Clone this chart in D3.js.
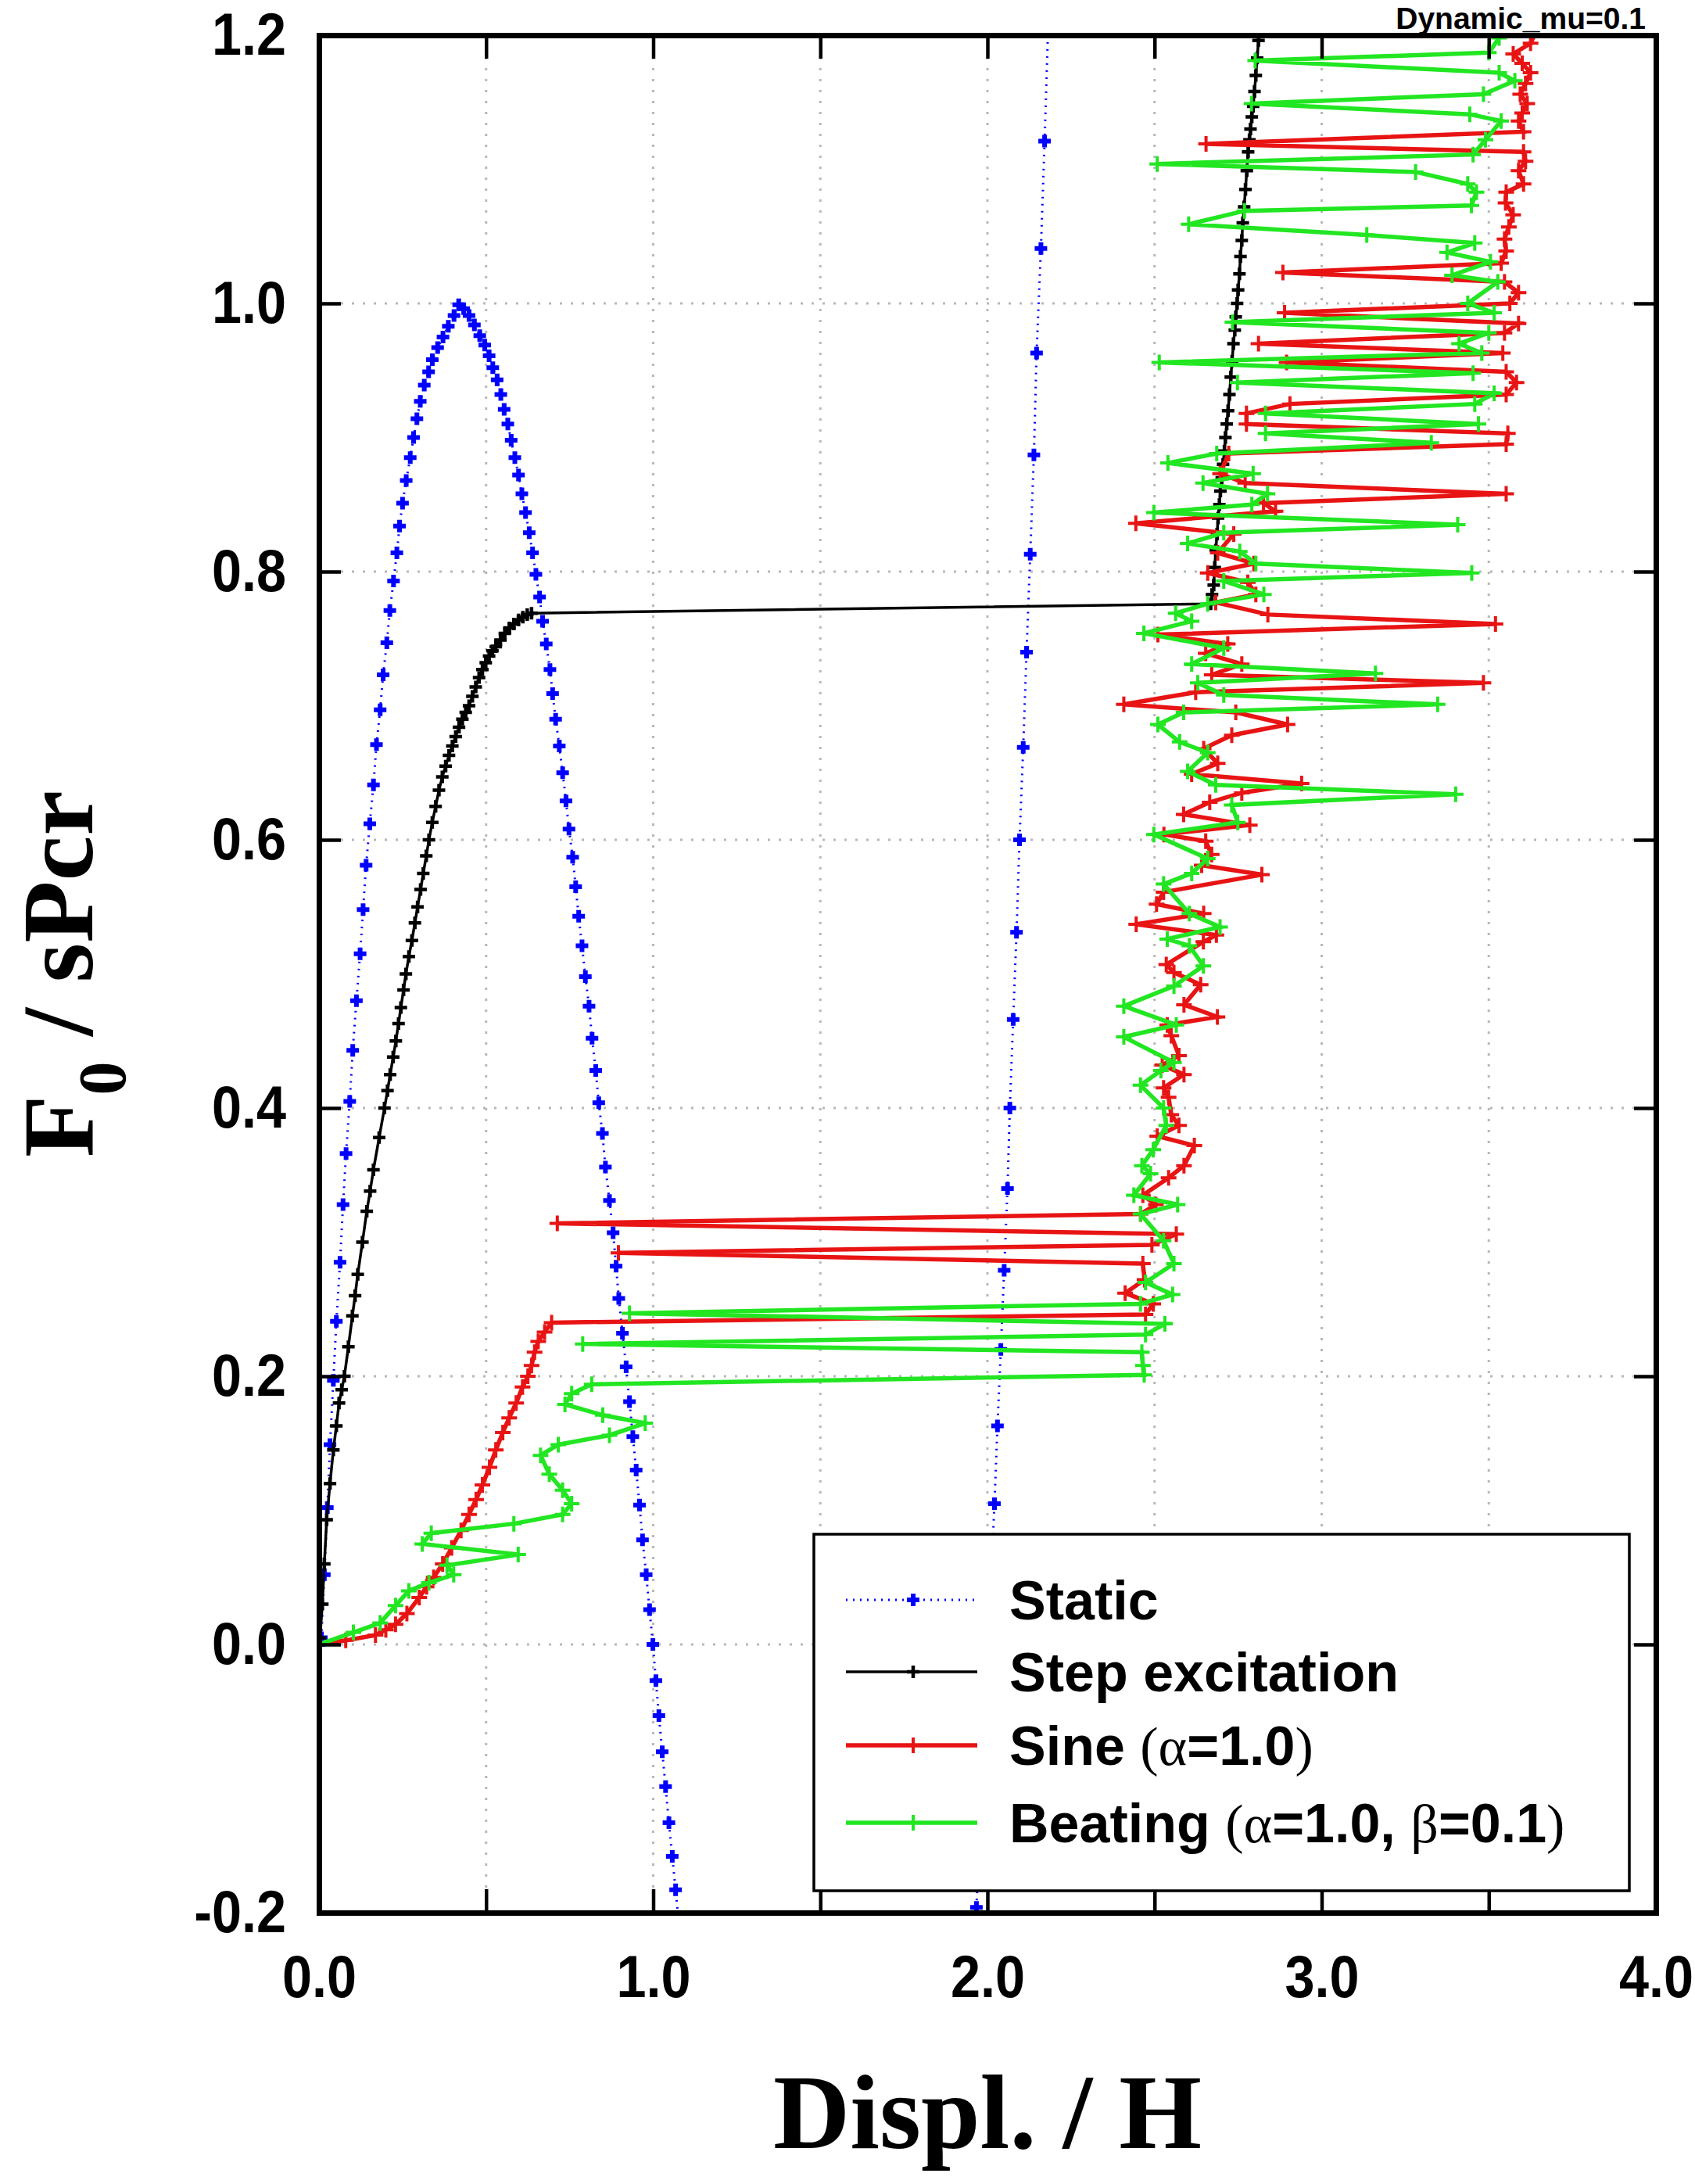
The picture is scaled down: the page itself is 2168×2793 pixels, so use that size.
<!DOCTYPE html>
<html>
<head>
<meta charset="utf-8">
<script src="https://cdn.jsdelivr.net/npm/d3@7"></script>
<style>
  body { margin: 0; background: #fff; }
  svg { display: block; }
</style>
</head>
<body>
<div id="chart"></div>
<script>
// ---- data ----
const xTicks = [0, 0.5, 1.0, 1.5, 2.0, 2.5, 3.0, 3.5, 4.0]
const yTicks = [-0.2, 0, 0.2, 0.4, 0.6, 0.8, 1.0, 1.2]
const xGrid = [0.5, 1.0, 1.5, 2.0, 2.5, 3.0, 3.5]
const yGrid = [0, 0.2, 0.4, 0.6, 0.8, 1.0]

const titleText = "Dynamic_mu=0.1"
const legendLabels = ["Static", "Step excitation", "Sine", "Beating"]

// static path, first branch (up, over the peak, down through zero)
const staticBranchA = [
  [0,0],[0.007,0.005],[0.016,0.052],[0.025,0.102],[0.033,0.149],[0.043,0.197],[0.052,0.241],
  [0.063,0.285],[0.072,0.328],[0.081,0.366],[0.092,0.405],[0.101,0.443],[0.112,0.480],
  [0.123,0.515],[0.132,0.548],[0.141,0.581],[0.152,0.612],[0.163,0.641],[0.172,0.671],
  [0.183,0.697],[0.192,0.723],[0.203,0.747],[0.212,0.771],[0.223,0.793],[0.233,0.814],
  [0.241,0.834],[0.250,0.851],[0.261,0.868],[0.273,0.885],[0.283,0.900],[0.293,0.914],
  [0.303,0.927],[0.315,0.939],[0.328,0.949],[0.339,0.958],[0.355,0.967],[0.371,0.975],
  [0.387,0.983],[0.404,0.991],[0.418,0.999],[0.433,0.996],[0.449,0.991],[0.465,0.984],
  [0.481,0.976],[0.496,0.969],[0.509,0.961],[0.520,0.952],[0.533,0.943],[0.544,0.932],
  [0.554,0.921],[0.565,0.910],[0.575,0.898],[0.586,0.885],[0.597,0.872],[0.607,0.858],
  [0.618,0.844],[0.629,0.829],[0.639,0.814],[0.649,0.798],[0.660,0.781],[0.669,0.763],
  [0.680,0.746],[0.691,0.727],[0.699,0.709],[0.708,0.690],[0.719,0.670],[0.729,0.650],
  [0.739,0.629],[0.748,0.608],[0.759,0.587],[0.768,0.565],[0.777,0.543],[0.787,0.521],
  [0.797,0.498],[0.808,0.476],[0.817,0.452],[0.828,0.428],[0.837,0.404],[0.848,0.381],
  [0.857,0.356],[0.869,0.331],[0.880,0.307],[0.889,0.282],[0.897,0.258],[0.908,0.232],
  [0.919,0.207],[0.929,0.181],[0.939,0.155],[0.949,0.130],[0.959,0.104],[0.968,0.078],
  [0.979,0.052],[0.989,0.026],[0.999,0.000],[1.008,-0.027],[1.017,-0.053],[1.027,-0.080],
  [1.037,-0.106],[1.047,-0.133],[1.057,-0.158],[1.067,-0.183],[1.077,-0.209]
]

// static path, second branch (comes back from below the axis)
const staticBranchB = [
  [1.967,-0.196],[2.021,0.105],[2.030,0.163],[2.040,0.220],[2.050,0.279],[2.060,0.340],
  [2.067,0.400],[2.077,0.466],[2.087,0.531],[2.096,0.600],[2.107,0.669],[2.117,0.740],
  [2.128,0.813],[2.139,0.887],[2.147,0.963],[2.160,1.041],[2.171,1.121],[2.182,1.210]
]

const stepExcitation = [
  [0,0],[0.003,0.005],[0.010,0.030],[0.016,0.060],[0.023,0.093],[0.033,0.120],[0.043,0.145],
  [0.052,0.163],[0.060,0.180],[0.068,0.190],[0.076,0.200],[0.088,0.222],[0.100,0.245],
  [0.108,0.260],[0.116,0.276],[0.130,0.300],[0.143,0.323],[0.153,0.338],[0.163,0.354],
  [0.180,0.378],[0.196,0.400],[0.205,0.413],[0.213,0.425],[0.222,0.438],[0.230,0.450],
  [0.238,0.463],[0.245,0.475],[0.253,0.488],[0.260,0.500],[0.269,0.513],[0.278,0.525],
  [0.287,0.538],[0.295,0.550],[0.304,0.563],[0.312,0.575],[0.321,0.588],[0.329,0.600],
  [0.339,0.613],[0.349,0.625],[0.359,0.637],[0.369,0.647],[0.379,0.655],[0.389,0.663],
  [0.399,0.670],[0.409,0.677],[0.419,0.684],[0.429,0.690],[0.439,0.695],[0.449,0.700],
  [0.459,0.707],[0.469,0.714],[0.479,0.721],[0.489,0.727],[0.499,0.732],[0.509,0.737],
  [0.519,0.741],[0.529,0.744],[0.543,0.749],[0.556,0.754],[0.570,0.758],[0.583,0.761],
  [0.597,0.764],[0.610,0.766],[0.623,0.768],[0.636,0.769],
  [2.668,0.776],[2.672,0.783],[2.677,0.790],[2.680,0.803],[2.683,0.816],[2.687,0.828],
  [2.690,0.840],[2.694,0.850],[2.697,0.860],[2.701,0.870],[2.705,0.880],[2.709,0.890],
  [2.712,0.900],[2.716,0.910],[2.720,0.920],[2.724,0.932],[2.728,0.945],[2.732,0.957],
  [2.736,0.970],[2.740,0.980],[2.743,0.990],[2.747,1.000],[2.750,1.010],[2.754,1.022],
  [2.757,1.035],[2.761,1.047],[2.764,1.060],[2.768,1.072],[2.772,1.085],[2.776,1.099],
  [2.780,1.113],[2.784,1.122],[2.787,1.130],[2.791,1.139],[2.795,1.147],[2.799,1.158],
  [2.803,1.170],[2.807,1.183],[2.811,1.196],[2.815,1.210]
]

const sineResponse = [
  [0,0],[0.080,0.003],[0.169,0.007],[0.200,0.011],[0.229,0.015],[0.263,0.023],[0.300,0.035],
  [0.322,0.043],[0.343,0.050],[0.370,0.060],[0.397,0.072],[0.425,0.085],[0.449,0.097],
  [0.470,0.108],[0.489,0.119],[0.510,0.132],[0.529,0.145],[0.550,0.158],[0.569,0.169],
  [0.590,0.180],[0.609,0.192],[0.625,0.200],[0.636,0.208],[0.645,0.218],[0.656,0.226],
  [0.675,0.233],[0.696,0.240],
  [2.473,0.246],[2.496,0.254],[2.412,0.262],[2.470,0.272],[2.465,0.284],[0.896,0.292],
  [2.492,0.298],[2.565,0.306],[0.713,0.314],[2.458,0.321],[2.504,0.328],[2.465,0.335],
  [2.542,0.348],[2.588,0.357],[2.619,0.372],[2.508,0.379],[2.573,0.387],[2.550,0.395],
  [2.542,0.408],[2.527,0.415],[2.588,0.425],[2.523,0.432],[2.573,0.439],[2.550,0.454],
  [2.538,0.462],[2.688,0.468],[2.588,0.477],[2.638,0.492],[2.558,0.501],[2.535,0.507],
  [2.646,0.524],[2.685,0.529],[2.445,0.537],[2.647,0.545],[2.506,0.552],[2.527,0.561],
  [2.821,0.574],[2.641,0.581],[2.671,0.589],[2.653,0.599],[2.528,0.604],[2.785,0.611],
  [2.587,0.619],[2.665,0.628],[2.761,0.635],[2.940,0.642],[2.611,0.649],[2.689,0.657],
  [2.647,0.668],[2.731,0.678],[2.898,0.686],[2.743,0.695],[2.408,0.701],[2.623,0.710],
  [3.484,0.717],[2.671,0.723],[2.761,0.731],[2.653,0.739],[2.719,0.746],[2.510,0.753],
  [3.520,0.761],[2.839,0.768],[2.683,0.777],[2.803,0.783],[2.779,0.792],[2.659,0.799],
  [2.797,0.806],[2.689,0.814],[2.737,0.828],[2.444,0.836],[2.862,0.845],[2.826,0.851],
  [3.552,0.858],[2.771,0.866],[2.696,0.873],[2.722,0.888],[3.552,0.895],[3.557,0.903],
  [2.775,0.910],[2.775,0.918],[2.905,0.925],[3.552,0.932],[3.583,0.941],[3.552,0.949],
  [2.895,0.956],[3.542,0.963],[2.811,0.970],[3.547,0.978],[3.589,0.985],[2.889,0.993],
  [3.563,1.000],[3.589,1.008],[3.547,1.016],[2.884,1.023],[3.537,1.030],[3.552,1.039],
  [3.547,1.048],[3.560,1.057],[3.573,1.066],[3.550,1.075],[3.552,1.083],[3.604,1.089],
  [3.589,1.099],[3.610,1.106],[3.604,1.113],[2.654,1.119],[3.604,1.128],[3.589,1.136],
  [3.600,1.142],[3.615,1.149],[3.594,1.156],[3.610,1.164],[3.625,1.172],[3.600,1.179],
  [3.573,1.186],[3.625,1.194],[3.646,1.205]
]

const beatingResponse = [
  [0,0],[0.103,0.009],[0.183,0.016],[0.229,0.029],[0.269,0.040],[0.329,0.046],[0.403,0.052],
  [0.383,0.059],[0.596,0.067],[0.309,0.075],[0.336,0.083],[0.583,0.090],[0.729,0.097],
  [0.756,0.105],[0.729,0.115],[0.689,0.127],[0.663,0.141],[0.716,0.149],[0.869,0.156],
  [0.976,0.165],[0.849,0.171],[0.736,0.179],[0.756,0.187],[0.816,0.194],
  [2.469,0.201],[2.465,0.208],[2.462,0.218],[0.789,0.224],[2.473,0.231],[2.531,0.239],
  [0.929,0.247],[2.458,0.254],[2.554,0.261],[2.473,0.270],[2.558,0.284],[2.527,0.301],
  [2.458,0.321],[2.569,0.328],[2.438,0.335],[2.488,0.351],[2.462,0.357],[2.496,0.369],
  [2.535,0.387],[2.527,0.400],[2.458,0.417],[2.519,0.428],[2.558,0.434],[2.408,0.453],
  [2.565,0.462],[2.408,0.476],[2.558,0.491],[2.646,0.506],[2.604,0.521],[2.538,0.526],
  [2.696,0.535],[2.604,0.545],[2.527,0.567],[2.611,0.575],[2.659,0.586],[2.498,0.604],
  [2.749,0.613],[2.731,0.626],[3.401,0.634],[2.683,0.641],[2.599,0.651],[2.659,0.665],
  [2.575,0.673],[2.510,0.686],[2.587,0.695],[3.347,0.701],[2.707,0.708],[2.629,0.717],
  [3.161,0.724],[2.611,0.731],[2.707,0.743],[2.468,0.754],[2.611,0.763],[2.563,0.769],
  [2.659,0.776],[2.827,0.783],[2.707,0.793],[3.449,0.799],[2.803,0.806],[2.755,0.815],
  [2.599,0.821],[2.707,0.829],[3.407,0.835],[2.498,0.844],[2.791,0.850],[2.838,0.858],
  [2.645,0.866],[2.795,0.873],[2.540,0.881],[2.686,0.888],[3.328,0.896],[2.832,0.903],
  [3.469,0.910],[2.832,0.918],[3.458,0.925],[3.516,0.933],[2.748,0.941],[3.453,0.948],
  [2.514,0.956],[3.479,0.963],[3.411,0.970],[3.500,0.978],[2.733,0.986],[3.516,0.993],
  [3.437,1.000],[3.527,1.016],[3.390,1.021],[3.505,1.031],[3.375,1.038],[3.458,1.045],
  [3.135,1.051],[2.602,1.059],[2.769,1.069],[3.448,1.073],[3.463,1.083],[3.437,1.089],
  [3.281,1.098],[2.508,1.104],[3.453,1.111],[3.490,1.122],[3.537,1.136],[3.443,1.141],
  [2.790,1.149],[3.484,1.156],[3.578,1.166],[3.531,1.172],[2.801,1.181],[3.500,1.187],
  [3.531,1.198],[3.540,1.210]
]

// ---- layout ----
const W = 2168, H = 2793
const plot = { left: 408, right: 2118, top: 45, bottom: 2446 }
const sansFont = "'Liberation Sans', Arial, Helvetica, sans-serif"
const serifFont = "'Liberation Serif', 'Times New Roman', Times, serif"

const colors = { stat: "#0000ff", step: "#000000", sine: "#e81414", beat: "#22e622" }

const svg = d3.select("#chart").append("svg")
  .attr("width", W)
  .attr("height", H)

const xScale = d3.scaleLinear([0, 4], [plot.left, plot.right])
const yScale = d3.scaleLinear([-0.2, 1.2], [plot.bottom, plot.top])

svg.append("defs").append("clipPath").attr("id", "plotClip")
   .append("rect")
   .attr("x", plot.left).attr("y", plot.top)
   .attr("width", plot.right - plot.left).attr("height", plot.bottom - plot.top)

// grid
const grid = svg.append("g")
grid.selectAll("line.gx").data(xGrid).enter().append("line")
    .attr("x1", d => xScale(d)).attr("x2", d => xScale(d))
    .attr("y1", plot.top).attr("y2", plot.bottom)
grid.selectAll("line.gy").data(yGrid).enter().append("line")
    .attr("x1", plot.left).attr("x2", plot.right)
    .attr("y1", d => yScale(d)).attr("y2", d => yScale(d))
grid.selectAll("line")
    .attr("stroke", "#b8b8b8")
    .attr("stroke-width", 3)
    .attr("stroke-dasharray", "3,11")

// helpers
function plusPath(s) {
  return `M${-s},0H${s}M0,${-s}V${s}`
}

function drawSeries(parent, data, opt) {
  const dMaker = d3.line()
    .x(d => xScale(d[0]))
    .y(d => yScale(d[1]))

  parent.append("path")
     .datum(data)
     .attr("fill", "none")
     .attr("stroke", opt.color)
     .attr("stroke-width", opt.width)
     .attr("stroke-dasharray", opt.dash || null)
     .attr("stroke-linejoin", "miter")
     .attr("d", dMaker)

  parent.append("g")
     .selectAll("path")
     .data(data)
     .enter()
     .append("path")
     .attr("transform", d => `translate(${xScale(d[0])},${yScale(d[1])})`)
     .attr("d", plusPath(opt.mark))
     .attr("stroke", opt.color)
     .attr("stroke-width", opt.markWidth)
     .attr("fill", "none")
}

const marks = svg.append("g").attr("clip-path", "url(#plotClip)")

const staticStyle = { color: colors.stat, width: 3, dash: "2,7", mark: 8, markWidth: 6 }
const stepStyle = { color: colors.step, width: 3.5, mark: 8, markWidth: 4.5 }
const sineStyle = { color: colors.sine, width: 5.5, mark: 10, markWidth: 4 }
const beatStyle = { color: colors.beat, width: 5.5, mark: 10, markWidth: 4 }

drawSeries(marks, staticBranchA, staticStyle)
drawSeries(marks, staticBranchB, staticStyle)
drawSeries(marks, stepExcitation, stepStyle)
drawSeries(marks, sineResponse, sineStyle)
drawSeries(marks, beatingResponse, beatStyle)

// axes
const squeeze = 0.9   // tick labels are a little narrow in the original

let xAxisBottom = d3.axisBottom(xScale).tickValues(xTicks)
  .tickSizeInner(-30).tickSizeOuter(0).tickPadding(54)
  .tickFormat(d => (Math.abs(d - Math.round(d)) < 1e-9) ? d.toFixed(1) : "")
let xAxisTop = d3.axisTop(xScale).tickValues(xTicks)
  .tickSizeInner(-30).tickSizeOuter(0).tickFormat("")
let yAxisLeft = d3.axisLeft(yScale).tickValues(yTicks)
  .tickSizeInner(-28).tickSizeOuter(0).tickPadding(42)
  .tickFormat(d => d.toFixed(1))
let yAxisRight = d3.axisRight(yScale).tickValues(yTicks)
  .tickSizeInner(-28).tickSizeOuter(0).tickFormat("")

const axes = svg.append("g")
const gBottom = axes.append("g").attr("transform", `translate(0,${plot.bottom})`).call(xAxisBottom)
axes.append("g").attr("transform", `translate(0,${plot.top})`).call(xAxisTop)
const gLeft = axes.append("g").attr("transform", `translate(${plot.left},0)`).call(yAxisLeft)
axes.append("g").attr("transform", `translate(${plot.right},0)`).call(yAxisRight)

axes.selectAll(".domain").attr("stroke", "#000").attr("stroke-width", 7)
    .attr("stroke-linecap", "square")
axes.selectAll(".tick line").attr("stroke", "#000").attr("stroke-width", 4.5)
axes.selectAll(".tick text")
    .attr("fill", "#000")
    .attr("transform", `scale(${squeeze},1)`)
    .style("font-family", sansFont)
    .style("font-weight", "bold")
    .style("font-size", "76px")
gLeft.selectAll(".tick text").attr("x", -42 / squeeze)

// legend
const legend = svg.append("g")
legend.append("rect")
  .attr("x", 1041).attr("y", 1962)
  .attr("width", 2084 - 1041).attr("height", 2418 - 1962)
  .attr("fill", "#fff")
  .attr("stroke", "#000")
  .attr("stroke-width", 3.5)

const legendStyles = [staticStyle, stepStyle, sineStyle, beatStyle]
const legendRowY = [2046, 2138, 2232, 2331]

legendLabels.forEach((label, i) => {
  const st = legendStyles[i]
  const yy = legendRowY[i]
  legend.append("line")
    .attr("x1", 1082).attr("x2", 1250).attr("y1", yy).attr("y2", yy)
    .attr("stroke", st.color)
    .attr("stroke-width", st.width)
    .attr("stroke-dasharray", st.dash || null)
  legend.append("path")
    .attr("transform", `translate(1168,${yy})`)
    .attr("d", plusPath(st.mark))
    .attr("stroke", st.color)
    .attr("stroke-width", st.markWidth)

  const t = legend.append("text")
    .attr("x", 1291).attr("y", yy + 25)
    .style("font-family", sansFont)
    .style("font-weight", "bold")
    .style("font-size", "70px")
  t.append("tspan").text(label)
  if (label === "Sine" || label === "Beating") {
    const greek = (s) => t.append("tspan").text(s)
       .style("font-family", serifFont).style("font-weight", "normal")
    t.append("tspan").text(" ")
    greek("(α")
    t.append("tspan").text(label === "Sine" ? "=1.0" : "=1.0, ")
    if (label === "Beating") {
      greek("β")
      t.append("tspan").text("=0.1")
    }
    greek(")")
  }
})

// title and axis labels
svg.append("text")
  .attr("x", 2105).attr("y", 37)
  .attr("text-anchor", "end")
  .style("font-family", sansFont)
  .style("font-weight", "bold")
  .style("font-size", "39px")
  .text(titleText)

svg.append("text")
  .attr("x", (plot.left + plot.right) / 2).attr("y", 2747)
  .attr("text-anchor", "middle")
  .style("font-family", serifFont)
  .style("font-weight", "bold")
  .style("font-size", "136px")
  .text("Displ. / H")

const yTitle = svg.append("text")
  .attr("transform", `translate(118,${(plot.top + plot.bottom) / 2}) rotate(-90)`)
  .attr("text-anchor", "middle")
  .style("font-family", serifFont)
  .style("font-weight", "bold")
  .style("font-size", "130px")
yTitle.append("tspan").text("F")
yTitle.append("tspan").text("0").attr("dy", 42).style("font-size", "86px")
yTitle.append("tspan").text(" / sPcr").attr("dy", -42)
</script>
</body>
</html>
